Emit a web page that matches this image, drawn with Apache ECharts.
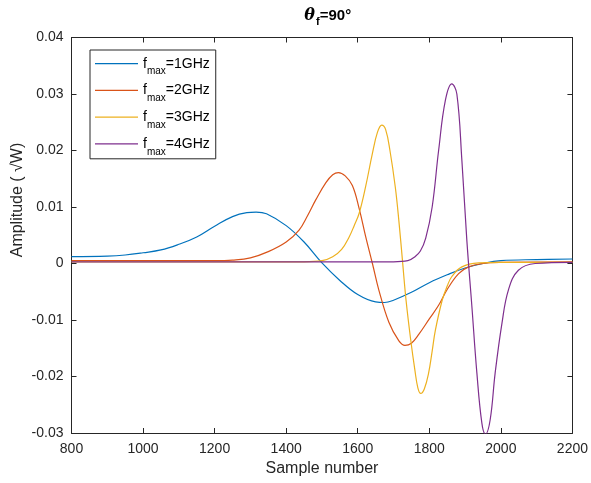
<!DOCTYPE html>
<html>
<head>
<meta charset="utf-8">
<script src="https://cdn.jsdelivr.net/npm/echarts@6/dist/echarts.min.js"></script>
<style>html,body{margin:0;padding:0;background:#fff}#c{width:591px;height:483px}</style>
</head>
<body>
<div id="c"></div>
<script>
// tick values
const xTicks = [800, 1000, 1200, 1400, 1600, 1800, 2000, 2200];
const yTicks = [-0.03, -0.02, -0.01, 0, 0.01, 0.02, 0.03, 0.04];

// f_max = 1 GHz
const s1x = [800, 900, 950, 1000, 1050, 1100, 1150, 1200, 1250, 1290, 1316, 1345, 1400, 1450, 1500, 1550, 1600, 1650, 1675, 1700, 1750, 1800, 1850, 1900, 1950, 2000, 2100, 2200];
const s1y = [0.0012, 0.0013, 0.0015, 0.0019, 0.0024, 0.0034, 0.0047, 0.0066, 0.0083, 0.0090, 0.0091, 0.0088, 0.0067, 0.0038, 0.0001, -0.0030, -0.0055, -0.0068, -0.0069, -0.0065, -0.0051, -0.0034, -0.0020, -0.0008, 0.0000, 0.0005, 0.0007, 0.0008];

// f_max = 2 GHz
const s2x = [800, 1000, 1200, 1250, 1300, 1350, 1400, 1436, 1460, 1483, 1511, 1530, 1546, 1565, 1585, 1604, 1622, 1641, 1659, 1687, 1715, 1732, 1750, 1771, 1800, 1826, 1850, 1882, 1910, 1950, 2000, 2200];
const s2y = [0.0005, 0.0005, 0.0005, 0.0006, 0.0010, 0.0021, 0.0038, 0.0059, 0.0085, 0.0113, 0.0143, 0.0157, 0.0161, 0.0155, 0.0138, 0.0097, 0.0048, 0.0000, -0.0047, -0.0104, -0.0137, -0.0145, -0.0141, -0.0125, -0.0098, -0.0074, -0.0046, -0.0018, -0.0006, 0.0000, 0.0002, 0.0003];

// f_max = 3 GHz
const s3x = [800, 1400, 1450, 1500, 1530, 1555, 1576, 1590, 1604, 1622, 1641, 1655, 1667, 1678, 1690, 1705, 1715, 1725, 1735, 1748, 1760, 1768, 1776, 1786, 1798, 1808, 1817, 1836, 1850, 1863, 1891, 1938, 2000, 2200];
const s3y = [0.0003, 0.0003, 0.0003, 0.0005, 0.0012, 0.0025, 0.0047, 0.0067, 0.0089, 0.0136, 0.0195, 0.0232, 0.0245, 0.0237, 0.0200, 0.0135, 0.0075, 0.0005, -0.0065, -0.0135, -0.0190, -0.0220, -0.0230, -0.0222, -0.0194, -0.0155, -0.0118, -0.0065, -0.0040, -0.0023, -0.0006, 0.0001, 0.0002, 0.0002];

// f_max = 4 GHz
const s4x = [800, 1600, 1700, 1740, 1760, 1775, 1790, 1808, 1826, 1845, 1863, 1877, 1891, 1905, 1919, 1933, 1947, 1957, 1970, 1984, 2003, 2021, 2049, 2096, 2200];
const s4y = [0.0003, 0.0003, 0.0003, 0.0005, 0.0012, 0.0022, 0.0045, 0.0100, 0.0200, 0.0289, 0.0318, 0.0300, 0.0183, 0.0040, -0.0076, -0.0194, -0.0283, -0.0302, -0.0277, -0.0194, -0.0106, -0.0047, -0.0012, 0.0000, 0.0002];

const seriesNames = ['1GHz', '2GHz', '3GHz', '4GHz'];
const seriesColors = ['#0072BD', '#D95319', '#EDB120', '#7E2F8E'];
const allX = [s1x, s2x, s3x, s4x];
const allY = [s1y, s2y, s3y, s4y];

const axisColor = '#262626';
const font = 'Liberation Sans, Arial, Helvetica, sans-serif';

const series = seriesNames.map((n, i) => ({
  name: n,
  type: 'line',
  data: allX[i].map((x, k) => [x, allY[i][k]]),
  showSymbol: false,
  symbol: 'none',
  smooth: 0.4,
  lineStyle: { color: seriesColors[i], width: 1.2 },
  itemStyle: { color: seriesColors[i] },
  clip: true,
  z: 2 + i
}));

function yFmt(v) {
  const r = Math.round(v * 100) / 100;
  return r === 0 ? '0' : r.toFixed(2);
}

const baseAxis = {
  type: 'value',
  axisLine: { show: true, onZero: false, lineStyle: { color: axisColor, width: 1 } },
  axisTick: { show: true, inside: true, length: 5, lineStyle: { color: axisColor } },
  splitLine: { show: false }
};

const chart = echarts.init(document.getElementById('c'), null, { renderer: 'canvas' });
chart.setOption({
  animation: false,
  backgroundColor: '#fff',
  title: {
    text: '{t|θ}{s|f}{e|=90°}',
    left: 322.75,
    textAlign: 'center',
    top: -1,
    textStyle: {
      rich: {
        t: { fontFamily: 'DejaVu Serif, serif', fontStyle: 'italic', fontWeight: 'bold', fontSize: 16, color: '#000', verticalAlign: 'middle' },
        s: { fontFamily: font, fontWeight: 'bold', fontSize: 11, color: '#000', padding: [12, 0, 0, 1], verticalAlign: 'middle' },
        e: { fontFamily: font, fontWeight: 'bold', fontSize: 15, color: '#000', verticalAlign: 'middle' }
      }
    }
  },
  legend: {
    orient: 'vertical',
    left: 90,
    top: 50,
    icon: 'rect',
    itemWidth: 43,
    itemHeight: 1.3,
    itemGap: 6.7,
    padding: [6.7, 6, 2, 5],
    borderColor: axisColor,
    borderWidth: 1,
    backgroundColor: '#fff',
    data: seriesNames,
    formatter: n => '{a|f}{b|max}{a|=' + n + '}',
    textStyle: {
      rich: {
        a: { fontFamily: font, fontSize: 14, color: '#000', verticalAlign: 'middle' },
        b: { fontFamily: font, fontSize: 10, color: '#000', padding: [16, 0, 0, 0], verticalAlign: 'middle' }
      }
    }
  },
  grid: { left: 71.5, right: 17, top: 37.5, bottom: 50, containLabel: false },
  xAxis: [
    Object.assign({}, baseAxis, {
      min: xTicks[0], max: xTicks[xTicks.length - 1], interval: 200, position: 'bottom',
      axisLabel: { show: true, fontSize: 14, color: axisColor, fontFamily: font, margin: 9, formatter: v => String(v) },
      name: 'Sample number', nameLocation: 'middle', nameGap: 27,
      nameTextStyle: { fontSize: 16, color: axisColor, fontFamily: font }
    }),
    Object.assign({}, baseAxis, {
      min: xTicks[0], max: xTicks[xTicks.length - 1], interval: 200, position: 'top',
      axisLabel: { show: false }
    })
  ],
  yAxis: [
    Object.assign({}, baseAxis, {
      min: yTicks[0], max: yTicks[yTicks.length - 1], interval: 0.01, position: 'left',
      axisLabel: { show: true, fontSize: 14, color: axisColor, fontFamily: font, margin: 8, formatter: yFmt }
    }),
    Object.assign({}, baseAxis, {
      min: yTicks[0], max: yTicks[yTicks.length - 1], interval: 0.01, position: 'right',
      axisLabel: { show: false }
    })
  ],
  graphic: [{
    type: 'text',
    x: 18,
    y: 200,
    rotation: Math.PI / 2,
    style: {
      text: 'Amplitude ( √W)',
      font: '16px Liberation Sans, Arial, sans-serif',
      fill: axisColor,
      align: 'center',
      verticalAlign: 'middle'
    }
  }],
  series: series
});
</script>
</body>
</html>
